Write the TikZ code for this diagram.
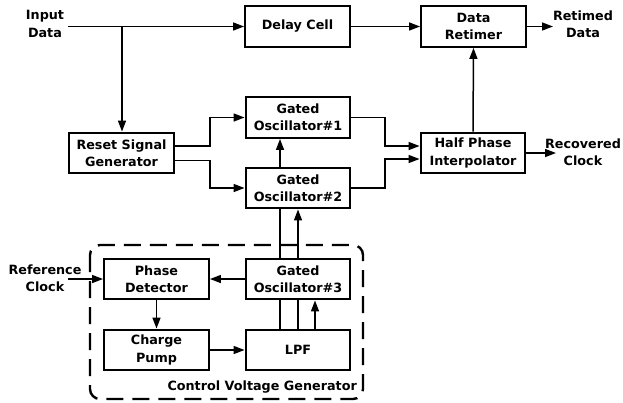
\documentclass[tikz,border=0pt]{standalone}
\usepackage{fontspec}
\setmainfont{DejaVu Sans}
\usetikzlibrary{arrows.meta,calc}
\begin{document}
\begin{tikzpicture}[x=1bp,y=-1bp,
  blk/.style={draw,line width=2.4bp,minimum width=104.5bp,minimum height=40.5bp,align=center,inner sep=0pt,font=\fontsize{12.8}{17.5}\selectfont\bfseries},
  lbl/.style={align=center,inner sep=0pt,font=\fontsize{12.8}{17.5}\selectfont\bfseries},
  con/.style={line width=1.5bp},
  arr/.style={con,-{Triangle[length=11bp,width=8bp]}}]
\useasboundingbox (0,0) rectangle (623,402);
% blocks
\node[blk] (delay) at (297.5,26.5) {Delay Cell};
\node[blk] (ret) at (473.5,26.5) {Data\\Retimer};
\node[blk] (osc1) at (298,117.5) {Gated\\Oscillator\#1};
\node[blk] (osc2) at (298,188) {Gated\\Oscillator\#2};
\node[blk] (hpi) at (473,153) {Half Phase\\Interpolator};
\node[blk] (rsg) at (121.5,153) {Reset Signal\\Generator};
\node[blk] (pd) at (156.5,279) {Phase\\Detector};
\node[blk] (osc3) at (298,279) {Gated\\Oscillator\#3};
\node[blk] (cp) at (156.5,350) {Charge\\Pump};
\node[blk] (lpf) at (298,350) {LPF};
% dashed region
\draw[line width=2.4bp,dash pattern=on 17bp off 9bp,rounded corners=10bp] (90,245) rectangle (363,399);
\node[lbl,anchor=east] (cvg) at (357,387) {Control Voltage Generator};
% labels
\node[lbl] (inp) at (45,24) {Input\\Data};
\node[lbl] (rtd) at (583,24) {Retimed\\Data};
\node[lbl] (rcl) at (583,152) {Recovered\\Clock};
\node[lbl] (ref) at (45,278) {Reference\\Clock};
\coordinate (inl) at (68,26.5);
\coordinate (br) at (122,26.5);
\coordinate (rtdl) at (553,26.5);
\coordinate (rcll) at (556,153);
\coordinate (refl) at (68,279);
% connectors
\draw[arr] (inl) -- (delay.west);
\draw[arr] (br) -- (br |- rsg.north);
\draw[arr] (delay.east) -- (ret.west);
\draw[arr] (ret.east) -- (rtdl);
\draw[arr] ($(rsg.east)+(0,-7)$) -| (210,117.5) -- (osc1.west);
\draw[arr] ($(rsg.east)+(0,7.5)$) -| (210,188) -- (osc2.west);
\draw[arr] (osc2.north -| 280,0) -- (osc1.south -| 280,0);
\draw[arr] (osc1.east) -| (385,146) -- (hpi.west |- 0,146);
\draw[arr] (osc2.east) -| (385,159) -- (hpi.west |- 0,159);
\draw[arr] (hpi.north) -- (ret.south);
\draw[arr] (hpi.east) -- (rcll);
\draw[arr] (refl) -- (pd.west);
\draw[arr] (osc3.west) -- (pd.east);
\draw[arr] (pd.south) -- (cp.north);
\draw[arr] (cp.east) -- (lpf.west);
\draw[con] (lpf.north -| 280,0) -- (osc3.south -| 280,0);
\draw[con] (lpf.north -| 298,0) -- (osc3.south -| 298,0);
\draw[arr] (lpf.north -| 315,0) -- (osc3.south -| 315,0);
\draw[con] (osc3.north -| 280,0) -- (osc2.south -| 280,0);
\draw[arr] (osc3.north -| 298,0) -- (osc2.south -| 298,0);
\end{tikzpicture}
\end{document}
